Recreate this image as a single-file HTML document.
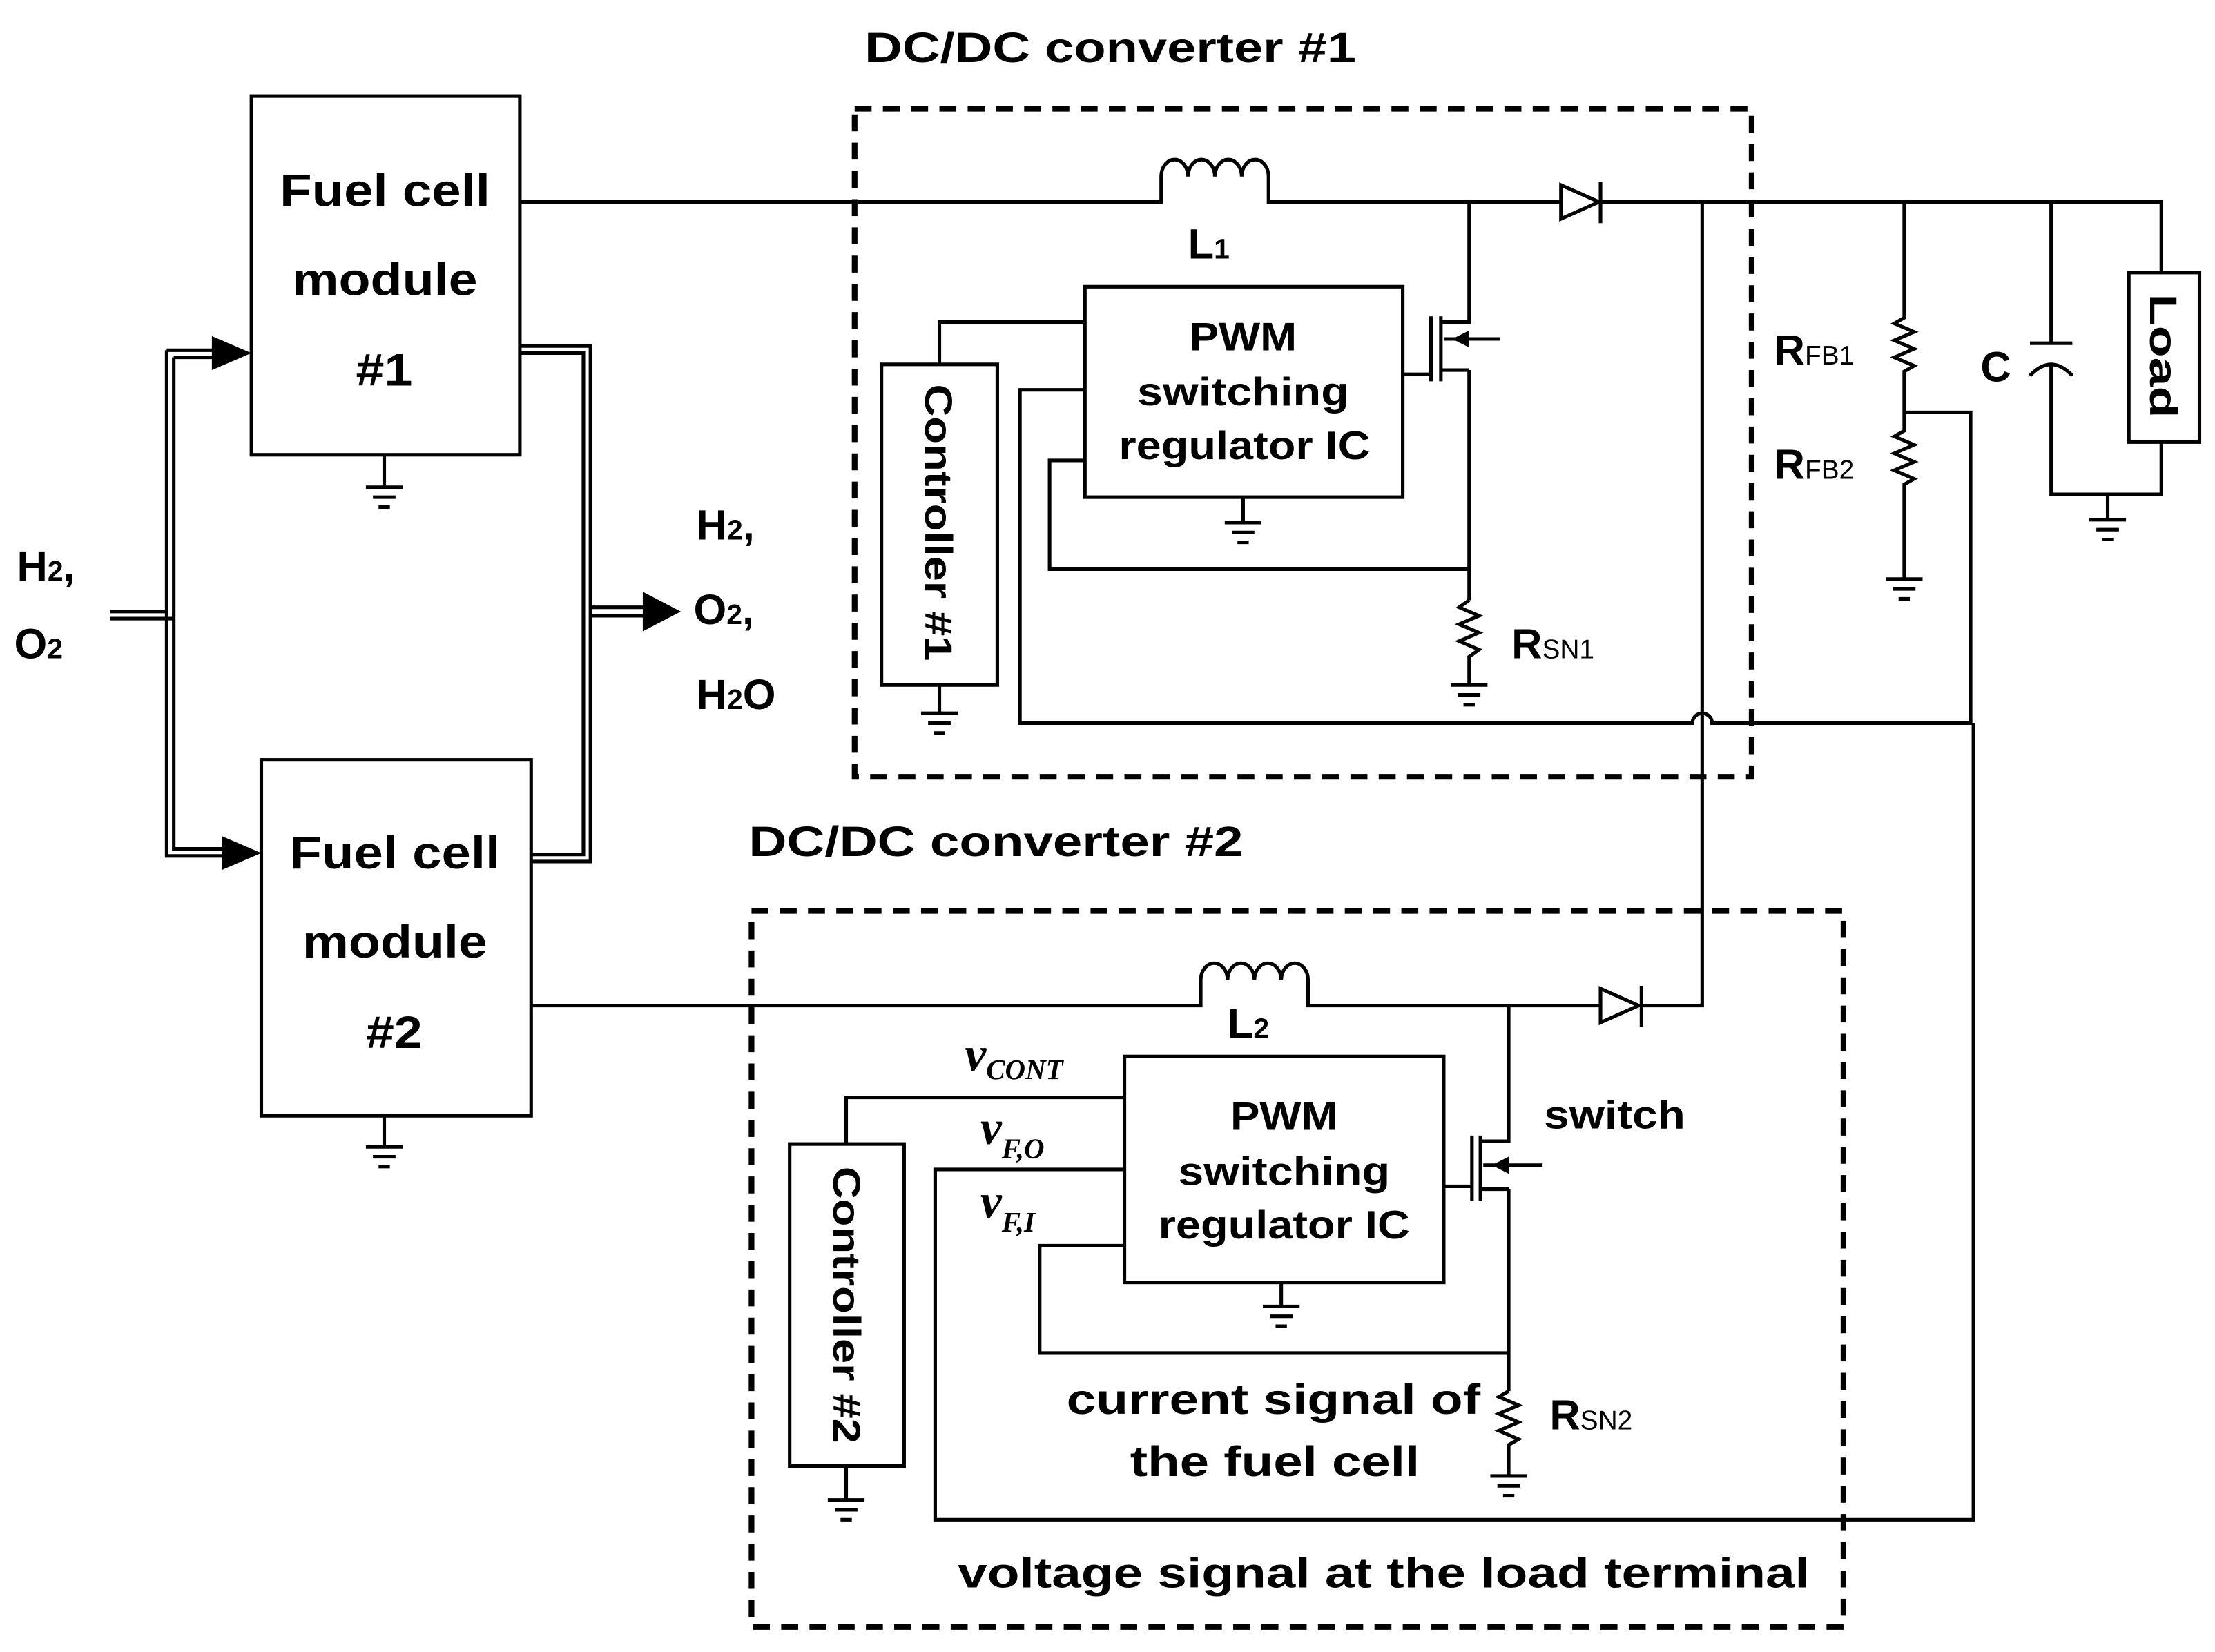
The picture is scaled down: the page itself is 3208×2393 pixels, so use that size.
<!DOCTYPE html>
<html><head><meta charset="utf-8"><style>
html,body{margin:0;padding:0;background:#fff;}
svg{display:block;}
text{font-family:"Liberation Sans",Arial,sans-serif;fill:#000;}
.b{font-weight:bold;}
</style></head><body>
<svg width="3208" height="2393" viewBox="0 0 1568 1169.7" preserveAspectRatio="none" xmlns="http://www.w3.org/2000/svg">
<defs>
<g id="gnd" stroke="#000" stroke-width="2.5" fill="none">
<line x1="-13" y1="0" x2="13" y2="0"/><line x1="-8" y1="7" x2="8" y2="7"/><line x1="-4" y1="14" x2="4" y2="14"/>
</g>
</defs>
<g stroke="#000" stroke-width="2.5" fill="none">
<rect x="178" y="68" width="190" height="254"/>
<rect x="185" y="538" width="191" height="252"/>
<line x1="272" y1="322" x2="272" y2="345"/>
<line x1="272" y1="790" x2="272" y2="812"/>
<path d="M78 433 H118 M78 438 H123"/>
<path d="M118 248 V606 H165 M123 253 V601 H165" />
<path d="M118 248 H165 M123 253 H165"/>
<path d="M368 245 H418 V610 H376 M368 250 H413 V605 H376"/>
<path d="M418 430 H460 M418 436 H460"/>
<rect x="605" y="77" width="635" height="473" stroke-width="4" stroke-dasharray="12,8"/>
<rect x="532" y="645" width="773" height="507" stroke-width="4" stroke-dasharray="12,8"/>
<path d="M368 143 H822 V125 a9.5 12 0 0 1 19 0 a9.5 12 0 0 1 19 0 a9.5 12 0 0 1 19 0 a9.5 12 0 0 1 19 0 V143 H1105"/>
<path d="M1133 143 H1530 V193"/>
<polygon points="1105,131 1105,155 1132,143"/>
<line x1="1133" y1="129" x2="1133" y2="158"/>
<rect x="768" y="203" width="225" height="149"/>
<rect x="624" y="258" width="82" height="227"/>
<path d="M665 258 V228 H768"/>
<line x1="665" y1="485" x2="665" y2="505"/>
<line x1="880" y1="352" x2="880" y2="370"/>
<path d="M768 276 H722 V512 H1198 a7 7 0 0 1 14 0 H1395 V292 H1348"/>
<path d="M768 326 H743 V403 H1040"/>
<path d="M1040 143 V228 H1020 M1040 262 H1020 M1040 262 V425"/>
<line x1="1020" y1="224" x2="1020" y2="270"/>
<line x1="1013" y1="224" x2="1013" y2="270"/>
<line x1="993" y1="265" x2="1013" y2="265"/>
<line x1="1022" y1="240" x2="1062" y2="240"/>
<path d="M1040 425 l-7 5 l14 6 l-14 6 l14 6 l-14 6 l14 6 l-7 5 V485"/>
<path d="M1205 143 V712 H1162"/>
<path d="M1348 143 V225 l-7 4 l14 6 l-14 6 l14 6 l-14 6 l14 6 l-7 4 V305 l-7 4 l14 6 l-14 6 l14 6 l-14 6 l14 6 l-7 4 V410"/>
<path d="M1452 143 V243 M1437 243 H1467 M1452 258 V350 H1530 V313 M1492 350 V368"/>
<path d="M1437 266 Q1452 250 1467 266"/>
<rect x="1507" y="193" width="50" height="120"/>
<path d="M376 712 H850 V694 a9.5 12 0 0 1 19 0 a9.5 12 0 0 1 19 0 a9.5 12 0 0 1 19 0 a9.5 12 0 0 1 19 0 V712 H1133"/>
<polygon points="1133,700 1133,724 1160,712"/>
<line x1="1162" y1="698" x2="1162" y2="727"/>
<rect x="796" y="748" width="226" height="160"/>
<rect x="559" y="810" width="81" height="228"/>
<path d="M599 810 V777 H796"/>
<line x1="599" y1="1038" x2="599" y2="1062"/>
<line x1="907" y1="908" x2="907" y2="925"/>
<path d="M796 828 H662 V1076 H1397 V512"/>
<path d="M796 882 H736 V958 H1068"/>
<path d="M1068 712 V808 H1048 M1068 842 H1048 M1068 842 V985"/>
<line x1="1048" y1="804" x2="1048" y2="850"/>
<line x1="1042" y1="804" x2="1042" y2="850"/>
<line x1="1022" y1="840" x2="1042" y2="840"/>
<line x1="1050" y1="825" x2="1092" y2="825"/>
<path d="M1068 985 l-7 4 l14 6 l-14 6 l14 6 l-14 6 l14 6 l-7 4 V1045"/>
</g>
<polygon points="150,238 178,250 150,262" fill="#000"/>
<polygon points="157,592 185,604 157,616" fill="#000"/>
<polygon points="455,419 482,433 455,447" fill="#000"/>
<polygon points="1028,240 1040,234 1040,246" fill="#000"/>
<polygon points="1056,825 1068,819 1068,831" fill="#000"/>
<use href="#gnd" x="272" y="345"/>
<use href="#gnd" x="272" y="812"/>
<use href="#gnd" x="665" y="505"/>
<use href="#gnd" x="880" y="370"/>
<use href="#gnd" x="1040" y="485"/>
<use href="#gnd" x="1348" y="410"/>
<use href="#gnd" x="1492" y="368"/>
<use href="#gnd" x="599" y="1062"/>
<use href="#gnd" x="907" y="925"/>
<use href="#gnd" x="1068" y="1045"/>
<g class="b" font-size="32" lengthAdjust="spacingAndGlyphs">
<text x="198" y="146" textLength="149" lengthAdjust="spacingAndGlyphs">Fuel cell</text>
<text x="207" y="209" textLength="131" lengthAdjust="spacingAndGlyphs">module</text>
<text x="252" y="273" textLength="40" lengthAdjust="spacingAndGlyphs">#1</text>
<text x="205" y="615" textLength="149" lengthAdjust="spacingAndGlyphs">Fuel cell</text>
<text x="214" y="678" textLength="131" lengthAdjust="spacingAndGlyphs">module</text>
<text x="259" y="742" textLength="40" lengthAdjust="spacingAndGlyphs">#2</text>
</g>
<g class="b" font-size="30">
<text x="612" y="44" textLength="348" lengthAdjust="spacingAndGlyphs">DC/DC converter #1</text>
<text x="530" y="606" textLength="350" lengthAdjust="spacingAndGlyphs">DC/DC converter #2</text>
<text x="678" y="1124" textLength="603" lengthAdjust="spacingAndGlyphs">voltage signal at the load terminal</text>
<text x="755" y="1001" textLength="293" lengthAdjust="spacingAndGlyphs">current signal of</text>
<text x="800" y="1045" textLength="205" lengthAdjust="spacingAndGlyphs">the fuel cell</text>
<text x="1093" y="799" font-size="28" textLength="100" lengthAdjust="spacingAndGlyphs">switch</text>
</g>
<g class="b" font-size="28">
<text x="842" y="248" textLength="76" lengthAdjust="spacingAndGlyphs">PWM</text>
<text x="805" y="287" textLength="150" lengthAdjust="spacingAndGlyphs">switching</text>
<text x="792" y="325" textLength="178" lengthAdjust="spacingAndGlyphs">regulator IC</text>
<text x="871" y="800" textLength="76" lengthAdjust="spacingAndGlyphs">PWM</text>
<text x="834" y="839" textLength="150" lengthAdjust="spacingAndGlyphs">switching</text>
<text x="820" y="877" textLength="178" lengthAdjust="spacingAndGlyphs">regulator IC</text>
</g>
<g class="b" font-size="27">
<text transform="translate(655,272) rotate(90)" textLength="196" lengthAdjust="spacingAndGlyphs">Controller #1</text>
<text transform="translate(590,826) rotate(90)" textLength="196" lengthAdjust="spacingAndGlyphs">Controller #2</text>
<text transform="translate(1522,208) rotate(90)" textLength="88" lengthAdjust="spacingAndGlyphs">Load</text>
</g>
<g class="b" font-size="30">
<text x="12" y="411">H<tspan font-size="20">2</tspan>,</text>
<text x="10" y="466">O<tspan font-size="20">2</tspan></text>
<text x="493" y="382">H<tspan font-size="20">2</tspan>,</text>
<text x="491" y="442">O<tspan font-size="20">2</tspan>,</text>
<text x="493" y="502">H<tspan font-size="20">2</tspan>O</text>
<text x="841" y="183">L<tspan font-size="20">1</tspan></text>
<text x="869" y="735">L<tspan font-size="20">2</tspan></text>
<text x="1256" y="258">R<tspan font-size="19" font-weight="normal">FB1</tspan></text>
<text x="1256" y="339">R<tspan font-size="19" font-weight="normal">FB2</tspan></text>
<text x="1402" y="270">C</text>
<text x="1070" y="466">R<tspan font-size="19" font-weight="normal">SN1</tspan></text>
<text x="1097" y="1012">R<tspan font-size="19" font-weight="normal">SN2</tspan></text>
</g>
<g font-style="italic" font-weight="bold">
<text x="683" y="758" font-size="34" style="font-family:'Liberation Serif',serif">v<tspan font-size="20" dy="6">CONT</tspan></text>
<text x="694" y="810" font-size="34" style="font-family:'Liberation Serif',serif">v<tspan font-size="20" dy="10">F,O</tspan></text>
<text x="694" y="862" font-size="34" style="font-family:'Liberation Serif',serif">v<tspan font-size="20" dy="10">F,I</tspan></text>
</g>
</svg>
</body></html>
